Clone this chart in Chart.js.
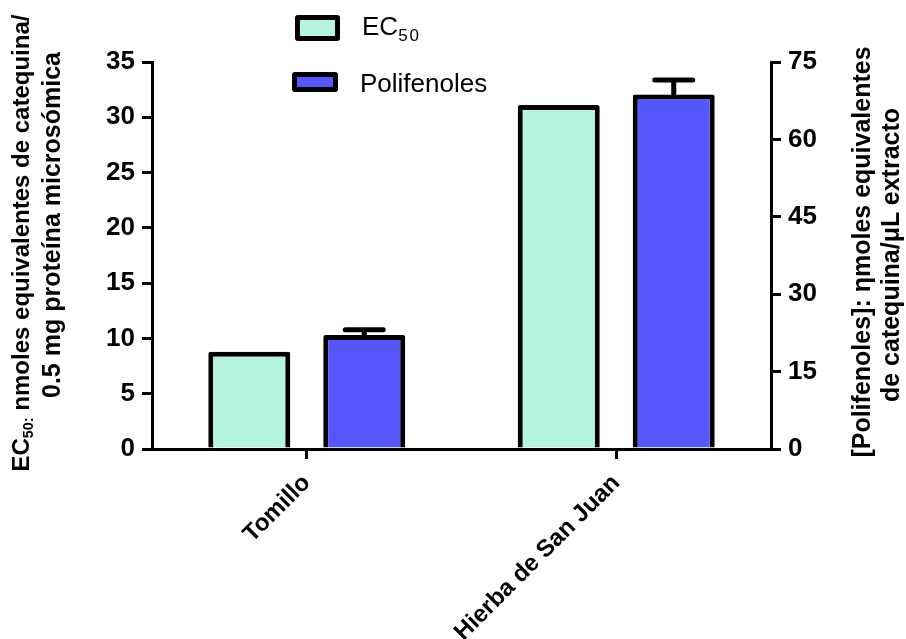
<!DOCTYPE html>
<html>
<head>
<meta charset="utf-8">
<script src="https://cdn.jsdelivr.net/npm/chart.js@4.4.1/dist/chart.umd.min.js"></script>
<style>
  body { margin: 0; background: #fff; font-family: "Liberation Sans", Arial, sans-serif; }
  #wrap { position: relative; width: 906px; height: 639px; overflow: hidden; }
  .legbox { position: absolute; box-sizing: border-box; border: 5px solid #000; border-radius: 3px; }
  .legtxt { position: absolute; font-size: 26px; line-height: 26px; color: #000; white-space: nowrap; }
  .ytitle { position: absolute; height: 30px; line-height: 30px; font-size: 24px; font-weight: bold;
            text-align: center; white-space: nowrap; transform: rotate(-90deg); color: #000; }
  .ytitle sub { font-size: 60%; vertical-align: -0.3em; line-height: 0; }
</style>
</head>
<body>
<div id="wrap">
  <canvas id="chart"></canvas>

  <!-- legend -->
  <div class="legbox" style="left:295px;top:15px;width:45px;height:26px;background:#b5f5df;"></div>
  <div class="legtxt" style="left:362px;top:13px;">EC<span style="font-size:17px;letter-spacing:2px;position:relative;top:6px;">50</span></div>
  <div class="legbox" style="left:292px;top:72px;width:46px;height:20px;background:#5656fa;"></div>
  <div class="legtxt" style="left:360px;top:70px;">Polifenoles</div>

  <!-- axis titles -->
  <div class="ytitle" style="left:-229px;top:228px;width:500px;">EC<sub>50:</sub> nmoles equivalentes de catequina/</div>
  <div class="ytitle" style="left:-199px;top:210px;width:500px;font-size:25px;">0.5 mg proteína microsómica</div>
  <div class="ytitle" style="left:611px;top:237px;width:500px;font-size:25px;">[Polifenoles]: ηmoles equivalentes</div>
  <div class="ytitle" style="left:640px;top:240px;width:500px;font-size:25px;">de catequina/μL extracto</div>
</div>

<script>
// data
const categories = ['Tomillo', 'Hierba de San Juan'];
const ec50 = [8.8, 31.1];            // left axis
const polifenoles = [22.1, 68.7];    // right axis
const polifenolesErr = [1.0, 2.8];   // upper error only
const leftMax = 35, leftStep = 5;
const rightMax = 75, rightStep = 15;

const tickFont = { family: 'Liberation Sans, Arial, sans-serif', size: 26, weight: 'bold' };

// draws the upward error bars of the polifenoles dataset
const errorBars = {
    id: 'errorBars',
    afterDatasetsDraw(chart) {
        const meta = chart.getDatasetMeta(1);
        const scale = chart.scales.y1;
        const ctx = chart.ctx;
        ctx.save();
        ctx.strokeStyle = '#000';
        ctx.lineWidth = 5;
        ctx.lineCap = 'round';
        meta.data.forEach((bar, i) => {
            const top = scale.getPixelForValue(polifenoles[i] + polifenolesErr[i]);
            ctx.beginPath();
            ctx.moveTo(bar.x, bar.y);
            ctx.lineTo(bar.x, top);
            ctx.moveTo(bar.x - 19, top);
            ctx.lineTo(bar.x + 19, top);
            ctx.stroke();
        });
        ctx.restore();
    }
};

new Chart(document.getElementById('chart'), {
    type: 'bar',
    data: {
        labels: categories,
        datasets: [{
            label: 'EC50',
            data: ec50,
            yAxisID: 'y',
            backgroundColor: '#b5f5df',
            borderColor: '#000',
            borderWidth: 5,
            borderSkipped: 'start',
            borderRadius: 2,
            categoryPercentage: 0.743,
            barPercentage: 0.713
        }, {
            label: 'Polifenoles',
            data: polifenoles,
            yAxisID: 'y1',
            backgroundColor: '#5656fa',
            borderColor: '#000',
            borderWidth: 5,
            borderSkipped: 'start',
            borderRadius: 2,
            categoryPercentage: 0.743,
            barPercentage: 0.713
        }]
    },
    options: {
        responsive: true,
        maintainAspectRatio: false,
        animation: false,
        layout: { padding: { top: 62, left: 0, right: 0, bottom: 0 } },
        plugins: {
            legend: { display: false },
            tooltip: { enabled: false }
        },
        scales: {
            x: {
                grid: { display: true, drawOnChartArea: false, offset: false, tickLength: 10, lineWidth: 3, color: '#000' },
                border: { display: true, color: '#000', width: 3 },
                ticks: {
                    color: '#000', minRotation: 45, maxRotation: 45, padding: 10,
                    font: { family: 'Liberation Sans, Arial, sans-serif', size: 24, weight: 'bold' }
                },
                afterFit(scale) { scale.height = 190; }
            },
            y: {
                position: 'left',
                min: 0, max: leftMax,
                grid: { display: true, drawOnChartArea: false, tickLength: 10, lineWidth: 3, color: '#000' },
                border: { display: true, color: '#000', width: 3 },
                ticks: { stepSize: leftStep, color: '#000', padding: 7, font: tickFont },
                afterFit(scale) { scale.width = 152; }
            },
            y1: {
                position: 'right',
                min: 0, max: rightMax,
                grid: { display: true, drawOnChartArea: false, tickLength: 10, lineWidth: 3, color: '#000' },
                border: { display: true, color: '#000', width: 3 },
                ticks: { stepSize: rightStep, color: '#000', padding: 7, font: tickFont },
                afterFit(scale) { scale.width = 135; }
            }
        }
    },
    plugins: [errorBars]
});
</script>
</body>
</html>
